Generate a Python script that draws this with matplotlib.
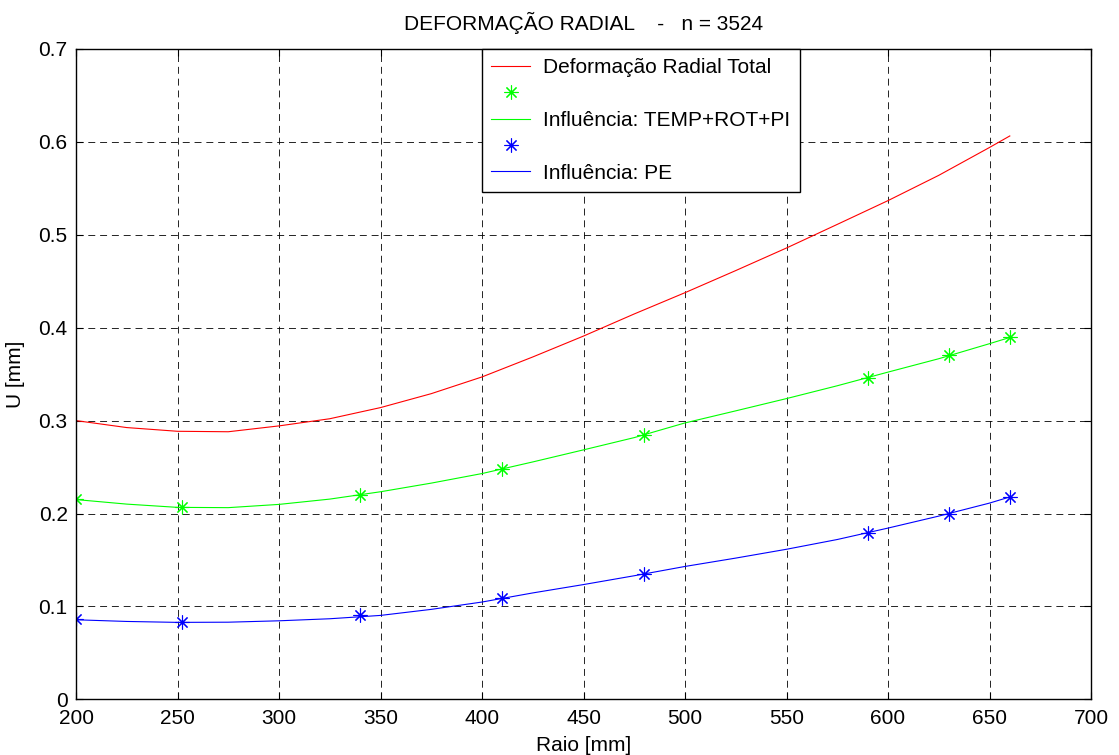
import matplotlib
matplotlib.use("Agg")
import matplotlib.pyplot as plt

plt.rcParams['font.family'] = ['Liberation Sans', 'DejaVu Sans']
plt.rcParams['lines.scale_dashes'] = False

# Radial positions of the computed curves [mm]
raio = [200, 225, 250, 275, 300, 325, 350, 375, 400, 425,
        450, 475, 500, 525, 550, 575, 600, 625, 650, 660]

# Radial displacement curves [mm]
u_total = [0.3000, 0.2925, 0.2885, 0.2880, 0.2943, 0.3020, 0.3140, 0.3290, 0.3470, 0.3685,
           0.3910, 0.4148, 0.4377, 0.4615, 0.4858, 0.5112, 0.5368, 0.5640, 0.5940, 0.6064]
u_temp_rot_pi = [0.2150, 0.2101, 0.2066, 0.2063, 0.2098, 0.2155, 0.2234, 0.2327, 0.2430, 0.2555,
                 0.2685, 0.2817, 0.2975, 0.3105, 0.3237, 0.3375, 0.3522, 0.3666, 0.3828, 0.3895]
u_pe = [0.0856, 0.0838, 0.0828, 0.0830, 0.0845, 0.0867, 0.0903, 0.0968, 0.1047, 0.1145,
        0.1235, 0.1330, 0.1430, 0.1520, 0.1615, 0.1720, 0.1843, 0.1972, 0.2112, 0.2178]

# Discrete calculation points
raio_pts = [200, 252, 340, 410, 480, 590, 630, 660]
u_temp_rot_pi_pts = [0.216, 0.207, 0.220, 0.248, 0.284, 0.346, 0.371, 0.390]
u_pe_pts = [0.086, 0.083, 0.091, 0.109, 0.135, 0.179, 0.200, 0.218]

x_ticks = [200, 250, 300, 350, 400, 450, 500, 550, 600, 650, 700]
y_ticks = [0, 0.1, 0.2, 0.3, 0.4, 0.5, 0.6, 0.7]
y_tick_labels = ['0', '0.1', '0.2', '0.3', '0.4', '0.5', '0.6', '0.7']

legend_labels = ['Deformação Radial Total', '', 'Influência: TEMP+ROT+PI', '', 'Influência: PE']

FS = 15
W, H = 1119, 755
fig = plt.figure(figsize=(W / 100, H / 100), dpi=100)
left, right, top, bottom = 76, 1091, 49, 699.3
ax = fig.add_axes([left / W, 1 - bottom / H, (right - left) / W, (bottom - top) / H])

asterisk = (8, 2, 0)
l_tot, = ax.plot(raio, u_total, color=(1, 0, 0), lw=0.8)
m_g, = ax.plot(raio_pts, u_temp_rot_pi_pts, ls='none', marker=asterisk, ms=10,
               mec=(0, 1, 0), mew=0.8)
l_g, = ax.plot(raio, u_temp_rot_pi, color=(0, 1, 0), lw=0.8)
m_b, = ax.plot(raio_pts, u_pe_pts, ls='none', marker=asterisk, ms=10,
               mec=(0, 0, 1), mew=0.8)
l_b, = ax.plot(raio, u_pe, color=(0, 0, 1), lw=0.8)

ax.set_xlim(200, 700)
ax.set_ylim(0, 0.7)
ax.set_xticks(x_ticks)
ax.set_yticks(y_ticks)
ax.set_yticklabels(y_tick_labels)
ax.tick_params(direction='in', length=5, width=0.8, top=True, right=True,
               labelsize=FS)
ax.tick_params(axis='x', pad=7)
ax.tick_params(axis='y', pad=6)
for s in ax.spines.values():
    s.set_linewidth(1.0)
    s.set_color('black')

ax.grid(True, color='black', lw=0.6, linestyle=(0, (5, 3.5)))
ax.set_axisbelow(True)

ax.set_title('DEFORMAÇÃO RADIAL    -   n = 3524', fontsize=FS, pad=14)
ax.set_xlabel('Raio [mm]', fontsize=FS, labelpad=6)
ax.set_ylabel('U [mm]', fontsize=FS, labelpad=10)

leg = ax.legend([l_tot, m_g, l_g, m_b, l_b], legend_labels,
                loc='upper left', bbox_to_anchor=((482 - left) / (right - left), 1.0),
                borderaxespad=0, fontsize=FS, fancybox=False, framealpha=1,
                edgecolor='black', handlelength=1.85, handletextpad=0.65,
                labelspacing=0.35, borderpad=0.45)
leg.get_frame().set_linewidth(1.0)

fig.savefig('out.png', dpi=100)
